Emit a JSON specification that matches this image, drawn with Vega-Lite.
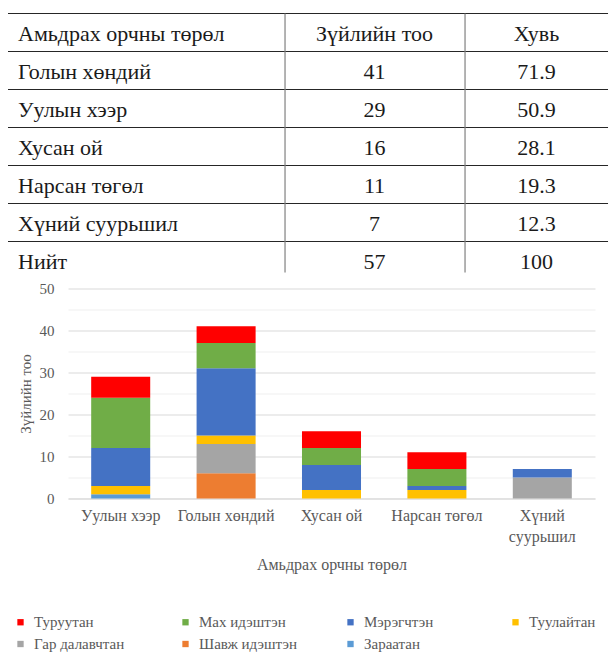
{
  "$schema": "https://vega.github.io/schema/vega-lite/v6.json",
  "padding": {"left": 7, "top": 12.5, "right": 0, "bottom": 0},
  "bounds": "flush",
  "spacing": 16,
  "background": "white",
  "config": {"view": {"stroke": null}, "font": "Liberation Serif"},
  "resolve": {"scale": {"color": "independent"}},
  "datasets": {
    "table": [
      {"habitat": "Амьдрах орчны төрөл", "count": "Зүйлийн тоо", "pct": "Хувь", "row": 0},
      {"habitat": "Голын хөндий", "count": "41", "pct": "71.9", "row": 1},
      {"habitat": "Уулын хээр", "count": "29", "pct": "50.9", "row": 2},
      {"habitat": "Хусан ой", "count": "16", "pct": "28.1", "row": 3},
      {"habitat": "Нарсан төгөл", "count": "11", "pct": "19.3", "row": 4},
      {"habitat": "Хүний суурьшил", "count": "7", "pct": "12.3", "row": 5},
      {"habitat": "Нийт", "count": "57", "pct": "100", "row": 6}
    ],
    "series": [
      {"group": "Туруутан", "rank": 0},
      {"group": "Мах идэштэн", "rank": 1},
      {"group": "Мэрэгчтэн", "rank": 2},
      {"group": "Туулайтан", "rank": 3},
      {"group": "Гар далавчтан", "rank": 4},
      {"group": "Шавж идэштэн", "rank": 5},
      {"group": "Зараатан", "rank": 6}
    ],
    "species": [
      {"habitat": "Уулын хээр", "group": "Зараатан", "n": 1},
      {"habitat": "Уулын хээр", "group": "Туулайтан", "n": 2},
      {"habitat": "Уулын хээр", "group": "Мэрэгчтэн", "n": 9},
      {"habitat": "Уулын хээр", "group": "Мах идэштэн", "n": 12},
      {"habitat": "Уулын хээр", "group": "Туруутан", "n": 5},
      {"habitat": "Голын хөндий", "group": "Шавж идэштэн", "n": 6},
      {"habitat": "Голын хөндий", "group": "Гар далавчтан", "n": 7},
      {"habitat": "Голын хөндий", "group": "Туулайтан", "n": 2},
      {"habitat": "Голын хөндий", "group": "Мэрэгчтэн", "n": 16},
      {"habitat": "Голын хөндий", "group": "Мах идэштэн", "n": 6},
      {"habitat": "Голын хөндий", "group": "Туруутан", "n": 4},
      {"habitat": "Хусан ой", "group": "Туулайтан", "n": 2},
      {"habitat": "Хусан ой", "group": "Мэрэгчтэн", "n": 6},
      {"habitat": "Хусан ой", "group": "Мах идэштэн", "n": 4},
      {"habitat": "Хусан ой", "group": "Туруутан", "n": 4},
      {"habitat": "Нарсан төгөл", "group": "Туулайтан", "n": 2},
      {"habitat": "Нарсан төгөл", "group": "Мэрэгчтэн", "n": 1},
      {"habitat": "Нарсан төгөл", "group": "Мах идэштэн", "n": 4},
      {"habitat": "Нарсан төгөл", "group": "Туруутан", "n": 4},
      {"habitat": "Хүний суурьшил", "group": "Гар далавчтан", "n": 5},
      {"habitat": "Хүний суурьшил", "group": "Мэрэгчтэн", "n": 2}
    ]
  },
  "vconcat": [
    {
      "width": 527,
      "height": 259,
      "data": {"name": "table"},
      "layer": [
        {
          "mark": {"type": "rule", "color": "#262626", "strokeWidth": 1.2},
          "encoding": {
            "y": {"field": "row", "type": "quantitative", "scale": {"domain": [0, 6.816], "reverse": true, "zero": false, "nice": false}, "axis": null},
            "x": {"datum": 0, "type": "quantitative", "scale": {"domain": [10, 97.83], "zero": false, "nice": false}, "axis": null},
            "x2": {"datum": 100}
          }
        },
        {
          "data": {"values": [{}]},
          "mark": {"type": "rule", "color": "#808080", "strokeWidth": 1.2},
          "encoding": {
            "x": {"datum": 46.17, "type": "quantitative"},
            "y": {"datum": 0, "type": "quantitative"},
            "y2": {"datum": 6.816}
          }
        },
        {
          "data": {"values": [{}]},
          "mark": {"type": "rule", "color": "#808080", "strokeWidth": 1.2},
          "encoding": {
            "x": {"datum": 76.17, "type": "quantitative"},
            "y": {"datum": 0, "type": "quantitative"},
            "y2": {"datum": 6.816}
          }
        },
        {
          "mark": {"type": "text", "align": "left", "baseline": "alphabetic", "dy": 27.5, "fontSize": 22, "color": "#1a1a1a"},
          "encoding": {
            "x": {"datum": 1.67, "type": "quantitative"},
            "y": {"field": "row", "type": "quantitative"},
            "text": {"field": "habitat"}
          }
        },
        {
          "mark": {"type": "text", "align": "center", "baseline": "alphabetic", "dy": 27.5, "fontSize": 22, "color": "#1a1a1a"},
          "encoding": {
            "x": {"datum": 61.08, "type": "quantitative"},
            "y": {"field": "row", "type": "quantitative"},
            "text": {"field": "count"}
          }
        },
        {
          "mark": {"type": "text", "align": "center", "baseline": "alphabetic", "dy": 27.5, "fontSize": 22, "color": "#1a1a1a"},
          "encoding": {
            "x": {"datum": 88.08, "type": "quantitative"},
            "y": {"field": "row", "type": "quantitative"},
            "text": {"field": "pct"}
          }
        }
      ]
    },
    {
      "width": 527,
      "height": 210,
      "data": {"name": "species"},
      "transform": [
        {"lookup": "group", "from": {"data": {"name": "series"}, "key": "group", "fields": ["rank"]}}
      ],
      "mark": {"type": "bar"},
      "encoding": {
        "x": {
          "field": "habitat", "type": "nominal",
          "sort": ["Уулын хээр", "Голын хөндий", "Хусан ой", "Нарсан төгөл", "Хүний суурьшил"],
          "scale": {"paddingInner": 0.44, "paddingOuter": 0.22},
          "axis": {
            "title": "Амьдрах орчны төрөл",
            "labelAngle": 0, "ticks": false, "domainColor": "#d9d9d9",
            "labelColor": "#595959", "labelFontSize": 16,
            "labelPadding": 9, "labelLineHeight": 21, "labelLimit": 0,
            "labelExpr": "datum.label == 'Хүний суурьшил' ? ['Хүний', 'суурьшил'] : datum.label",
            "titleColor": "#595959", "titleFontSize": 16, "titleFontWeight": "normal", "titlePadding": 12
          }
        },
        "y": {
          "field": "n", "type": "quantitative", "stack": "zero",
          "scale": {"domain": [0, 50], "nice": false},
          "axis": {
            "title": "Зүйлийн тоо",
            "values": [0, 5, 10, 15, 20, 25, 30, 35, 40, 45, 50],
            "labelExpr": "datum.value % 10 === 0 ? datum.label : ''",
            "ticks": false, "domain": false,
            "gridColor": {"condition": {"test": "datum.value % 10 === 0", "value": "#d9d9d9"}, "value": "#efefef"},
            "labelColor": "#595959", "labelFontSize": 15, "labelPadding": 14,
            "titleColor": "#595959", "titleFontSize": 15, "titleFontWeight": "normal", "titlePadding": 6
          }
        },
        "order": {"field": "rank", "type": "quantitative", "sort": "descending"},
        "color": {
          "field": "group", "type": "nominal",
          "scale": {
            "domain": ["Туруутан", "Мах идэштэн", "Мэрэгчтэн", "Туулайтан", "Гар далавчтан", "Шавж идэштэн", "Зараатан"],
            "range": ["#FF0000", "#70AD47", "#4472C4", "#FFC000", "#A5A5A5", "#ED7D31", "#5B9BD5"]
          },
          "legend": {
            "orient": "none", "legendX": -55, "legendY": 326, "direction": "horizontal",
            "columns": 4, "gridAlign": "all", "columnPadding": 46, "rowPadding": 6,
            "symbolType": "square", "symbolSize": 40, "symbolStrokeWidth": 0,
            "labelFontSize": 15, "labelColor": "#595959",
            "labelOffset": 6, "labelLimit": 0, "title": null, "padding": 0
          }
        }
      }
    }
  ]
}
